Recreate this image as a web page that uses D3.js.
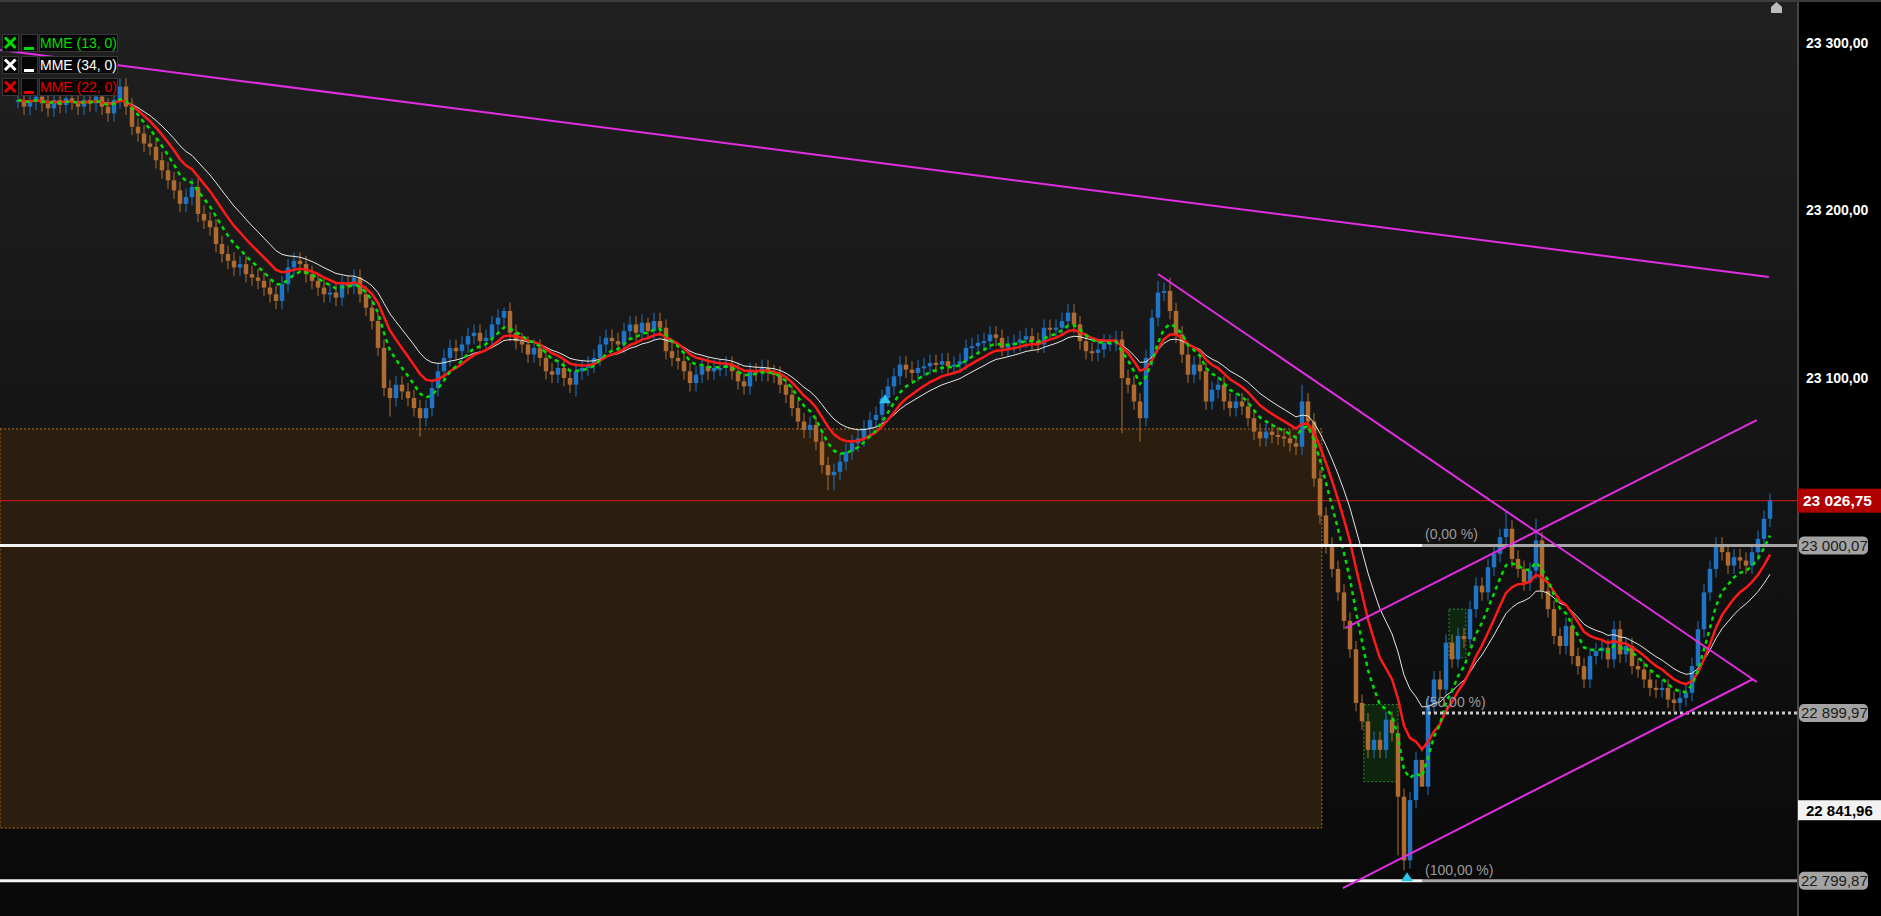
<!DOCTYPE html>
<html><head><meta charset="utf-8">
<script src="https://cdn.jsdelivr.net/npm/d3@7"></script>
<style>
html,body{margin:0;padding:0;background:#000;overflow:hidden;}
svg{display:block;font-family:"Liberation Sans",Arial,sans-serif;}
</style></head><body>
<svg id="chart" width="1881" height="916"></svg>
<script>
// ---------- DATA ----------
const closes = [
// flat start
23266,23262,23265,23268,23264,23261,23266,23263,23267,23265,23262,23266,23264,23268,23262,23258,23266,23274,
// first decline
23262,23250,23246,23240,23238,23230,23224,23218,23212,23204,23208,23214,23198,23194,23190,23180,23174,23170,23166,23168,
23162,23160,23158,23154,23150,23146,23156,23166,23170,23168,23162,23158,23154,23150,23151,23148,23156,23155,23160,23150,
23142,23134,23118,23094,23088,23096,23092,23088,23082,23076,23082,23094,23104,23112,23118,23116,23120,
// range
23125,23127,23122,23124,23132,23136,23140,23127,23122,23120,23114,23118,23112,23104,23102,23106,23100,23096,23104,23106,
23108,23112,23120,23124,23122,23120,23128,23132,23127,23133,23128,23134,23130,23116,23112,23110,23104,23097,23102,23107,
23104,23106,23106,23108,23104,23098,23095,23104,23103,23106,23103,23102,23096,23090,23082,23074,23069,23072,23062,23048,
23042,23044,23050,23056,23061,23064,23070,23075,23078,23088,23095,23101,23108,23105,23103,
// second range and spike
23106,23107,23109,23108,23110,23107,23108,23110,23118,23119,23121,23122,23126,23124,23118,23120,23121,23123,23125,23122,
23120,23130,23129,23130,23134,23139,23132,23122,23116,23115,23117,23121,23121,23123,23100,23096,23086,23076,23112,23136,
23151,23152,23140,23126,23114,23102,23108,23104,23086,23093,23096,23086,23082,23086,23083,23076,23068,23064,23068,23066,
23065,23064,23061,23059,23086,23074,23040,
// crash and recovery
23018,23000,22986,22972,22955,22938,22906,22895,22878,22884,22878,22896,22888,22850,22812,22848,22872,22856,22905,22920,
22914,22942,22932,22946,22944,22962,22976,22972,22987,22995,23005,23010,22992,22986,22978,22985,23003,22973,22962,22946,
22940,22952,22934,22928,22920,22934,22937,22939,22932,22950,22935,22940,22928,22926,22920,22915,22914,22915,22908,22906,
22909,22912,22928,22950,22972,22986,23000,22996,22988,22993,22991,22988,22996,23004,23016,23026.75
];
// notable wick extremes: [bar index, price]
const wickHighs = [[17,23279],[81,23142],[105,23136],[190,23158],[192,23160],[214,23096],[248,23021],[253,23016],[292,23031]];
const wickLows  = [[62,23077],[67,23065],[93,23089],[135,23033],[136,23033],[184,23067],[187,23062],[230,22815],[231,22806],[234,22878]];

const emaPeriods = [34, 22, 13];
const emaColors  = ["#e6e6e6", "#ff1a1a", "#00e000"];
const legendItems = [
  {label:"MME (13, 0)", color:"#00dd00"},
  {label:"MME (34, 0)", color:"#ffffff"},
  {label:"MME (22, 0)", color:"#e00000"}
];
const yTicks = [23300, 23200, 23100];
const lastPrice = 23026.75;
const fibLevels = [
  {label:"(0,00 %)",   value:23000.07, solid:true},
  {label:"(50,00 %)",  value:22899.97, solid:false},
  {label:"(100,00 %)", value:22799.87, solid:true}
];
const fibStart = 234;           // bar index where the fib labels start
const markerLevel = 22841.96;
// trendlines: [[barIndex, price], [barIndex, price]]
const trendLines = [
  [[-3, 23295.8], [291.8, 23160.3]],
  [[190, 23162.1], [289.8, 22918.5]],
  [[221.2, 22950.7], [289.8, 23074.9]],
  [[220.8, 22795.5], [289.2, 22920.3]]
];
const zoneBox = {from:-3, to:217.3, top:23069.6, bottom:22831.3};
const patternBoxes = [
  {from:224.3, to:230, top:22905, bottom:22859},
  {from:238.5, to:241.3, top:22962, bottom:22933}
];
const upMarkers = [[144.5, 23085], [231.5, 22799.5]];

// ---------- LAYOUT ----------
const W = 1881, H = 916, plotRight = 1797;
const barsPerDrawnBar = 2;   // each drawn bar stands for two of the reference's bars
const svg = d3.select("#chart");

const x = d3.scaleLinear().domain([0, closes.length - 1]).range([18, 1770]);
const y = d3.scaleLinear().domain([23100, 23300]).range([378, 43]);

const locale = d3.formatLocale({decimal:",", thousands:" ", grouping:[3], currency:["",""]});
const fmt = locale.format(",.2f");

// background
const defs = svg.append("defs");
const grad = defs.append("linearGradient").attr("id","bg").attr("x1",0).attr("y1",0).attr("x2",0).attr("y2",1);
grad.append("stop").attr("offset","0%").attr("stop-color","#202020");
grad.append("stop").attr("offset","100%").attr("stop-color","#090909");
svg.append("rect").attr("x",0).attr("y",0).attr("width",plotRight).attr("height",H).attr("fill","url(#bg)");
const clip = defs.append("clipPath").attr("id","plotclip");
clip.append("rect").attr("x",0).attr("y",0).attr("width",plotRight).attr("height",H);
const plot = svg.append("g").attr("clip-path","url(#plotclip)");

// zone rectangle
plot.append("rect")
  .attr("x", x(zoneBox.from)).attr("y", y(zoneBox.top))
  .attr("width", x(zoneBox.to) - x(zoneBox.from)).attr("height", y(zoneBox.bottom) - y(zoneBox.top))
  .attr("fill","#2b1e0f").attr("stroke","#b46c1c").attr("stroke-width",1).attr("stroke-dasharray","2,2");

// last price thin line
plot.append("line").attr("x1",0).attr("x2",plotRight).attr("y1",y(lastPrice)).attr("y2",y(lastPrice))
  .attr("stroke","#d81a1a").attr("stroke-width",1);

// pattern boxes
plot.selectAll(".pbox").data(patternBoxes).join("rect")
  .attr("x", d => x(d.from)).attr("y", d => y(d.top))
  .attr("width", d => x(d.to) - x(d.from)).attr("height", d => y(d.bottom) - y(d.top))
  .attr("fill","#0e2a0e").attr("fill-opacity",0.85).attr("stroke","#2f8f2f").attr("stroke-width",1).attr("stroke-dasharray","2,2");

// candles
const hiMap = new Map(wickHighs), loMap = new Map(wickLows);
const wickPad = 5;
const bars = closes.map((c, i) => {
  const o = i === 0 ? c : closes[i - 1];
  const hi = hiMap.has(i) ? hiMap.get(i) : Math.max(o, c) + wickPad;
  const lo = loMap.has(i) ? loMap.get(i) : Math.min(o, c) - wickPad;
  return {i, o, c, hi, lo, up: c >= o};
});
const upCol = "#1f74c6", dnCol = "#b06c30";
const cg = plot.append("g");
cg.selectAll(".wick").data(bars).join("line")
  .attr("x1", d => x(d.i)).attr("x2", d => x(d.i))
  .attr("y1", d => y(d.hi)).attr("y2", d => y(d.lo))
  .attr("stroke", d => d.up ? upCol : dnCol).attr("stroke-width",1);
cg.selectAll(".body").data(bars).join("rect")
  .attr("x", d => x(d.i) - 2.25).attr("width", 4.5)
  .attr("y", d => y(Math.max(d.o, d.c)))
  .attr("height", d => Math.max(2, Math.abs(y(d.o) - y(d.c))))
  .attr("fill", d => d.up ? upCol : dnCol);

// EMAs
function ema(period) {
  const n = period / barsPerDrawnBar;
  const a = 2 / (n + 1);
  let prev = closes[0];
  return closes.map((c, i) => (prev = i === 0 ? c : prev + a * (c - prev)));
}
const line = d3.line().x((d, i) => x(i)).y(d => y(d));
emaPeriods.forEach((p, k) => {
  plot.append("path").datum(ema(p)).attr("d", line).attr("fill","none")
    .attr("stroke", emaColors[k])
    .attr("stroke-width", p === 34 ? 1 : 2.5)
    .attr("stroke-dasharray", p === 13 ? "4,4" : null);
});

// fib lines
fibLevels.forEach(f => {
  const yy = y(f.value);
  if (f.solid) {
    plot.append("line").attr("x1",0).attr("x2",x(fibStart)).attr("y1",yy).attr("y2",yy)
      .attr("stroke","#f4f4f4").attr("stroke-width",3);
    plot.append("line").attr("x1",x(fibStart)).attr("x2",plotRight).attr("y1",yy).attr("y2",yy)
      .attr("stroke","#a6a6a6").attr("stroke-width",3);
  } else {
    plot.append("line").attr("x1",x(fibStart)).attr("x2",plotRight).attr("y1",yy).attr("y2",yy)
      .attr("stroke","#c8c8c8").attr("stroke-width",3).attr("stroke-dasharray","3,3");
  }
  plot.append("text").attr("x", x(fibStart) + 3).attr("y", yy - 6)
    .attr("fill","#9a9a9a").attr("font-size",14).text(f.label);
});

// trendlines
plot.selectAll(".tl").data(trendLines).join("line")
  .attr("x1", d => x(d[0][0])).attr("y1", d => y(d[0][1]))
  .attr("x2", d => x(d[1][0])).attr("y2", d => y(d[1][1]))
  .attr("stroke","#e22ee2").attr("stroke-width",2);

// up markers
plot.selectAll(".mk").data(upMarkers).join("path")
  .attr("d", d => { const cx = x(d[0]), cy = y(d[1]); return `M${cx-6},${cy} L${cx},${cy-9} L${cx+6},${cy} Z`; })
  .attr("fill","#2cc6ea");

// right axis panel
svg.append("rect").attr("x",plotRight).attr("y",0).attr("width",W-plotRight).attr("height",H).attr("fill","#000");
svg.append("line").attr("x1",plotRight+1).attr("x2",plotRight+1).attr("y1",0).attr("y2",H).attr("stroke","#454545").attr("stroke-width",2);
svg.append("rect").attr("x",0).attr("y",0).attr("width",W).attr("height",2).attr("fill","#3c3c3c");

const yAxis = d3.axisRight(y).tickValues(yTicks).tickSize(0).tickPadding(0).tickFormat(fmt);
const ag = svg.append("g").attr("transform",`translate(1806,0)`).call(yAxis);
ag.select(".domain").remove();
ag.selectAll("text").attr("fill","#ffffff").attr("font-size",14).attr("font-weight","bold")
  .attr("font-family","'Liberation Sans',Arial,sans-serif");

// last price box
svg.append("rect").attr("x",plotRight+1).attr("y",y(lastPrice)-12).attr("width",W-plotRight).attr("height",24).attr("fill","#b00000");
svg.append("text").attr("x",1803).attr("y",y(lastPrice)).attr("dy","0.36em").attr("fill","#fff")
  .attr("font-size",15.5).attr("font-weight","bold").text(fmt(lastPrice));

// fib value boxes
fibLevels.forEach(f => {
  const yy = y(f.value);
  svg.append("rect").attr("x",1799).attr("y",yy-9).attr("width",69).attr("height",18).attr("rx",5)
    .attr("fill","#a3a3a3");
  svg.append("text").attr("x",1801).attr("y",yy).attr("dy","0.36em").attr("fill","#1c1c1c")
    .attr("font-size",15).text(fmt(f.value));
});

// marker level box
svg.append("rect").attr("x",plotRight+1).attr("y",y(markerLevel)-10).attr("width",W-plotRight).attr("height",20).attr("fill","#f2f2f2");
svg.append("text").attr("x",1806).attr("y",y(markerLevel)).attr("dy","0.36em").attr("fill","#000")
  .attr("font-size",15).attr("font-weight","bold").text(fmt(markerLevel));

// top-right icon
svg.append("path").attr("d","M1771,13 L1771,7 L1776.5,2 L1782,7 L1782,13 Z").attr("fill","#bdbdbd");

// legend
const lg = svg.append("g");
legendItems.forEach((d, k) => {
  const ty = 34 + k * 22;
  const g = lg.append("g").attr("transform",`translate(0,${ty})`);
  [[2,16],[21,16],[39,78]].forEach(([bx,bw]) =>
    g.append("rect").attr("x",bx+0.5).attr("y",0.5).attr("width",bw).attr("height",17)
      .attr("fill","#060606").attr("stroke","#383838").attr("stroke-width",1));
  g.append("path").attr("d","M6,4.5 L14.5,13 M14.5,4.5 L6,13").attr("stroke",d.color).attr("stroke-width",3).attr("stroke-linecap","square");
  g.append("rect").attr("x",24).attr("y",13).attr("width",10).attr("height",3).attr("fill",d.color);
  g.append("text").attr("x",40).attr("y",14).attr("fill",d.color).attr("font-size",14).text(d.label);
});
</script>
</body></html>
